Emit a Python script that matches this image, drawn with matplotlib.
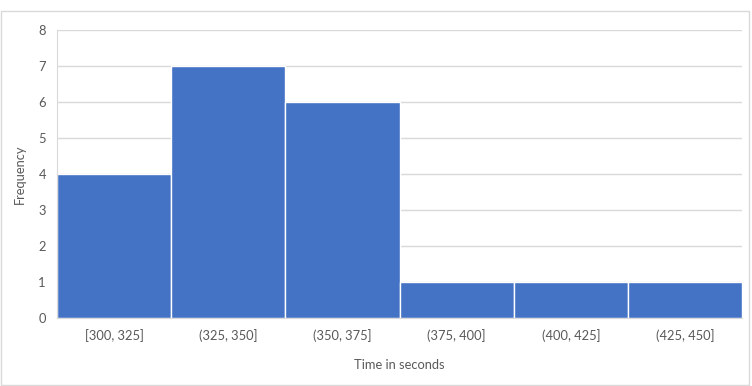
import matplotlib.pyplot as plt
from matplotlib.patches import Rectangle

bins = ['[300, 325]', '(325, 350]', '(350, 375]', '(375, 400]', '(400, 425]', '(425, 450]']
freq = [4, 7, 6, 1, 1, 1]

plt.rcParams['font.family'] = ['Lato', 'DejaVu Sans']

fig = plt.figure(figsize=(7.52, 3.86), dpi=100)
ax = fig.add_axes([57/752, 1-318/386, (742-57)/752, (318-30)/386])

# outer chart border
fig.patches.append(Rectangle((1/752, 1/386), 748/752, 374/386, transform=fig.transFigure,
                             fill=False, edgecolor='#D9D9D9', linewidth=1))

x = range(len(bins))
ax.bar(x, freq, width=1.0, color='#4472C4', edgecolor='white', linewidth=1, zorder=2)

ax.set_xlim(-0.5, len(bins) - 0.5)
ax.set_ylim(0, 8)
ax.set_yticks(range(0, 9))
ax.set_xticks(list(x))
ax.set_xticklabels(bins)
ax.grid(axis='y', color='#D9D9D9', linewidth=1, zorder=0)
ax.tick_params(length=0, colors='#595959', labelsize=9.3, pad=8)
for s in ['top', 'right']:
    ax.spines[s].set_visible(False)
ax.spines['left'].set_color('#D9D9D9')
ax.spines['bottom'].set_color('#D9D9D9')

ax.set_xlabel('Time in seconds', color='#595959', fontsize=9.3, labelpad=12)
ax.set_ylabel('Frequency', color='#595959', fontsize=9.3, labelpad=9)

fig.savefig('out.png', dpi=100)
